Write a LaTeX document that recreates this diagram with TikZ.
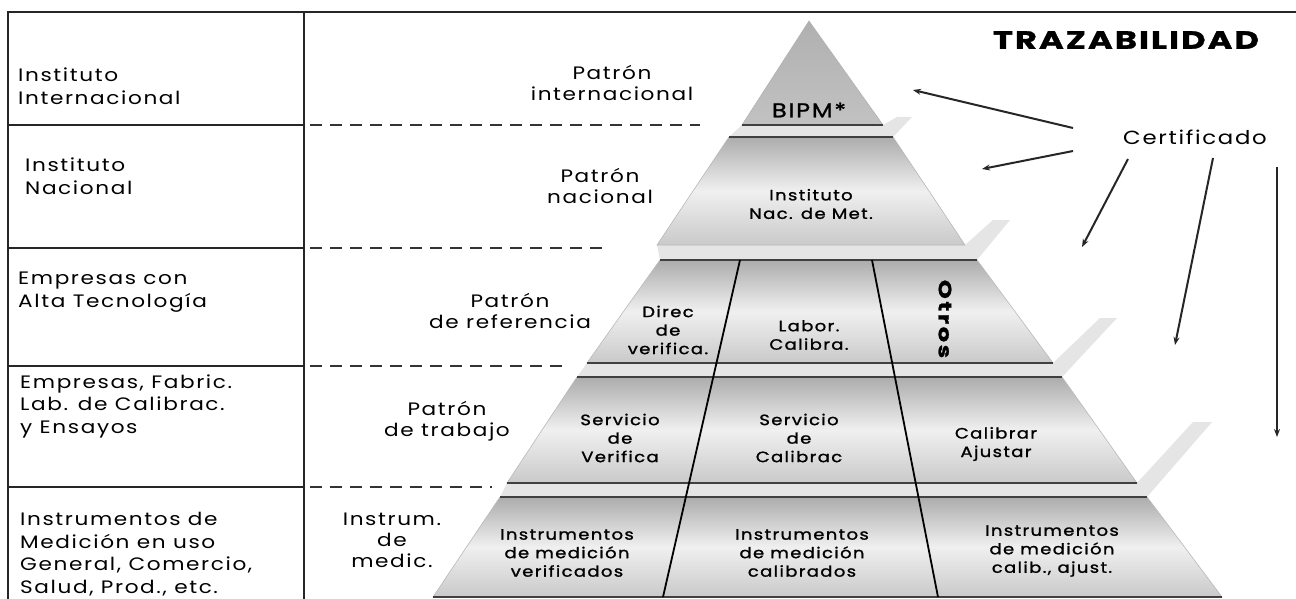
\documentclass[tikz,border=0pt]{standalone}
\usepackage{fontspec}
\setmainfont{Poppins}[FakeStretch=1.2, LetterSpace=9]
\newfontfamily\pyr{Poppins}[FakeStretch=1.2, LetterSpace=9, FakeBold=1.3]
\newfontfamily\ttl{Poppins}[FakeStretch=1.35, LetterSpace=8, BoldFeatures={FakeBold=1.2}]
\usetikzlibrary{arrows.meta}
\begin{document}
\begin{tikzpicture}[x=1pt,y=-1pt,
  frame/.style={line width=1.6pt, black!85},
  dashln/.style={dash pattern=on 12pt off 8pt, line width=1.3pt, black!80},
  tierbox/.style={top color=gray!65, bottom color=gray!42, middle color=gray!12, draw=gray!55, line width=0.6pt},
  topedge/.style={line width=1.3pt, black!75},
  band/.style={fill=gray!20, draw=none},
  divline/.style={line width=1.8pt, black},
  arr/.style={-{Stealth[length=8pt,width=6pt]}, line width=2pt, black!85},
  lefttxt/.style={anchor=west, align=left, font=\fontsize{18}{22.5}\selectfont, inner sep=0pt},
  midtxt/.style={align=center, font=\fontsize{18}{21}\selectfont, inner sep=0pt},
  pyrtxt/.style={align=center, font=\pyr\fontsize{15}{18.5}\selectfont, inner sep=0pt}]
\useasboundingbox (0,0) rectangle (1296,599);
\fill[white] (0,0) rectangle (1296,599);

% frame and left column
\draw[frame] (8,599) -- (8,12) -- (1296,12);
\draw[frame] (304,12) -- (304,599);
\foreach \yy in {125,248,366,487} \draw[frame] (8,\yy) -- (304,\yy);

% dashed level lines
\draw[dashln] (310,125) -- (700,125);
\draw[dashln] (310,248) -- (605,248);
\draw[dashln] (310,366) -- (567,366);
\draw[dashln] (310,487) -- (492,487);

% bands between tiers
\fill[band] (742,125) -- (883,125) -- (897,117) -- (912,117) -- (893,137) -- (729,137) -- cycle;
\fill[band] (657,245) -- (965,245) -- (993,220) -- (1010,220) -- (977,260) -- (660,260) -- cycle;
\fill[band] (587,363) -- (1053,363) -- (1100,318) -- (1117,318) -- (1062,377) -- (577,377) -- cycle;
\fill[band] (507,483) -- (1137,483) -- (1193,422) -- (1212,422) -- (1147,497) -- (500,497) -- cycle;

% tiers
\shade[top color=gray!62, bottom color=gray!48, draw=gray!60, line width=0.6pt] (809,21) -- (883,125) -- (742,125) -- cycle;
\shade[tierbox] (729,137) -- (893,137) -- (965,245) -- (657,245) -- cycle;
\shade[tierbox] (660,260) -- (977,260) -- (1053,363) -- (587,363) -- cycle;
\shade[tierbox] (577,377) -- (1062,377) -- (1137,483) -- (507,483) -- cycle;
\shade[tierbox] (500,497) -- (1147,497) -- (1222,597) -- (433,597) -- cycle;
\draw[topedge] (729,137) -- (893,137);
\draw[topedge] (660,260) -- (977,260);
\draw[topedge] (577,377) -- (1062,377);
\draw[topedge] (500,497) -- (1147,497);
\draw[topedge] (742,125) -- (883,125);
\draw[topedge] (587,363) -- (1053,363);
\draw[topedge] (507,483) -- (1137,483);
\draw[topedge] (433,597) -- (1222,597);

% dividers
\coordinate (d1a) at (740,260); \coordinate (d1b) at (663,597);
\coordinate (d2a) at (872,260); \coordinate (d2b) at (938,597);
\draw[divline] (d1a) -- (d1b);
\draw[divline] (d2a) -- (d2b);

% left column texts
\node[lefttxt] (l1) at (18,86) {Instituto\\Internacional};
\node[lefttxt] (l2) at (25,176) {Instituto\\Nacional};
\node[lefttxt] (l3) at (18,292) {Empresas con\\Alta Tecnología};
\node[lefttxt] (l4) at (20,406) {Empresas, Fabric.\\Lab. de Calibrac.\\y Ensayos};
\node[lefttxt] (l5) at (20,554) {Instrumentos de\\Medición en uso\\General, Comercio,\\Salud, Prod., etc.};

% middle labels
\node[midtxt] (m1) at (612,83) {Patrón\\internacional};
\node[midtxt] (m2) at (600,186) {Patrón\\nacional};
\node[midtxt] (m3) at (510,311) {Patrón\\de referencia};
\node[midtxt] (m4) at (447,421) {Patrón\\de trabajo};
\node[midtxt] (m5) at (392,540) {Instrum.\\de\\medic.};

% pyramid texts
\node[pyrtxt, font=\pyr\fontsize{20}{22}\selectfont] (p1) at (809,110) {BIPM*};
\node[pyrtxt] (p2) at (811,204) {Instituto\\Nac. de Met.};
\node[pyrtxt] (p3) at (668,330) {Direc\\de\\verifica.};
\node[pyrtxt] (p4) at (809,335) {Labor.\\Calibra.};
\node[pyrtxt, rotate=-90, font=\ttl\bfseries\fontsize{18}{20}\selectfont\addfontfeature{LetterSpace=14}] (p5) at (945,319) {Otros};
\node[pyrtxt] (p6) at (620,438) {Servicio\\de\\Verifica};
\node[pyrtxt] (p7) at (799,438) {Servicio\\de\\Calibrac};
\node[pyrtxt] (p8) at (996,444) {Calibrar\\Ajustar};
\node[pyrtxt] (p9) at (567,553) {Instrumentos\\de medición\\verificados};
\node[pyrtxt] (p10) at (802,553) {Instrumentos\\de medición\\calibrados};
\node[pyrtxt] (p11) at (1052,551) {Instrumentos\\de medición\\calib., ajust.};

% title and certificate
\node[font=\ttl\bfseries\fontsize{25}{30}\selectfont, inner sep=0pt] (title) at (1126,40) {TRAZABILIDAD};
\node[font=\fontsize{19}{24}\selectfont, inner sep=0pt] (cert) at (1195,137) {Certificado};

% arrows
\coordinate (a1s) at (1073,128); \coordinate (a1e) at (913,90);
\coordinate (a2s) at (1073,151); \coordinate (a2e) at (982,169);
\coordinate (a3s) at (1128,159); \coordinate (a3e) at (1082,247);
\coordinate (a4s) at (1213,158); \coordinate (a4e) at (1175,345);
\coordinate (a5s) at (1277,167); \coordinate (a5e) at (1277,437);
\draw[arr] (a1s) -- (a1e);
\draw[arr] (a2s) -- (a2e);
\draw[arr] (a3s) -- (a3e);
\draw[arr] (a4s) -- (a4e);
\draw[arr] (a5s) -- (a5e);
\end{tikzpicture}
\end{document}
